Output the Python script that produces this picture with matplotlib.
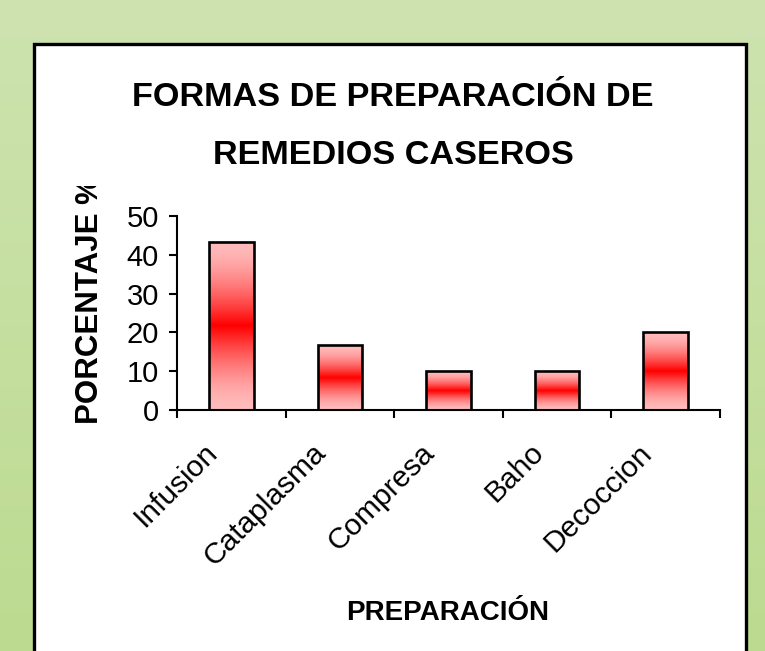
import numpy as np
import matplotlib.pyplot as plt
from matplotlib.colors import LinearSegmentedColormap
from matplotlib.patches import Rectangle
from matplotlib.transforms import Bbox, TransformedBbox, ScaledTranslation

plt.rcParams['font.family'] = ['Liberation Sans', 'DejaVu Sans']

# datos
categorias = ["Infusion", "Cataplasma", "Compresa", "Baho", "Decoccion"]
porcentajes = [43.3, 16.7, 10.0, 10.0, 20.0]
yticks = [0, 10, 20, 30, 40, 50]
titulo = "FORMAS DE PREPARACIÓN DE\nREMEDIOS CASEROS"
ylabel = "PORCENTAJE %"
xlabel = "PREPARACIÓN"

W, H = 765, 651
fig = plt.figure(figsize=(W / 100, H / 100), dpi=100)

# fondo verde con degradado
bg = fig.add_axes([0, 0, 1, 1])
verde = LinearSegmentedColormap.from_list("verde", ["#bcdb90", "#cee3b0"])
grad = np.linspace(0, 1, 256).reshape(-1, 1)
bg.imshow(grad, cmap=verde, extent=[0, 1, 0, 1], aspect='auto', origin='lower')
bg.add_patch(Rectangle((34 / W, -0.05), (746 - 34) / W, (H - 44) / H + 0.05,
                       facecolor='white', edgecolor='black', lw=2.4))
bg.set_xlim(0, 1)
bg.set_ylim(0, 1)
bg.axis('off')

# area del grafico
ax = fig.add_axes([177 / W, (H - 410) / H, (720 - 177) / W, (410 - 216) / H])
ax.set_facecolor('none')

x = np.arange(len(categorias)) + 0.5
ancho = 0.41
bars = ax.bar(x, porcentajes, width=ancho, facecolor='none', edgecolor='black',
              lw=1.9, zorder=3)

# relleno degradado rosa-rojo-rosa
t = np.linspace(0, 1, 256)
v = (1 - np.abs(2 * t - 1)) ** 1.6
rojo = LinearSegmentedColormap.from_list("rojo", ["#ffbcbc", "#ff0000"])
for b in bars:
    x0 = b.get_x()
    ax.imshow(v.reshape(-1, 1), cmap=rojo, vmin=0, vmax=1, aspect='auto',
              extent=[x0, x0 + b.get_width(), 0, b.get_height()],
              origin='lower', zorder=2)

ax.set_xlim(0, len(categorias))
ax.set_ylim(0, 50)
ax.set_yticks(yticks)
ax.set_xticks(np.arange(len(categorias) + 1))
ax.set_xticklabels([])
ax.set_xticks(x, minor=True)
ax.set_xticklabels(categorias, minor=True, rotation=45, ha='right',
                   rotation_mode='anchor', fontsize=21.5)
ax.tick_params(axis='x', which='minor', length=0, pad=14)
desplaza = ScaledTranslation(-0.28, -0.09, fig.dpi_scale_trans)
for lab in ax.get_xticklabels(minor=True):
    lab.set_transform(lab.get_transform() + desplaza)
ax.tick_params(axis='both', which='major', length=6, width=1.5, direction='out')
ax.tick_params(axis='y', labelsize=21, pad=7)
for s in ['top', 'right']:
    ax.spines[s].set_visible(False)
for s in ['left', 'bottom']:
    ax.spines[s].set_linewidth(1.5)

fig.text(393 / W, 1 - 97 / H, titulo.split("\n")[0], ha='center', va='center',
         fontsize=24.7, fontweight='bold')
fig.text(393 / W, 1 - 155 / H, titulo.split("\n")[1], ha='center', va='center',
         fontsize=24.7, fontweight='bold')

yl = fig.text(90 / W, 1 - 424 / H, ylabel, rotation=90, ha='center', va='bottom',
              fontsize=22.5, fontweight='bold')
yl.set_clip_box(TransformedBbox(Bbox([[0, 0], [1, 1 - 186 / H]]), fig.transFigure))
yl.set_clip_on(True)

fig.text(448 / W, 1 - 613 / H, xlabel, ha='center', va='center',
         fontsize=20, fontweight='bold')

fig.savefig("out.png", dpi=100)
